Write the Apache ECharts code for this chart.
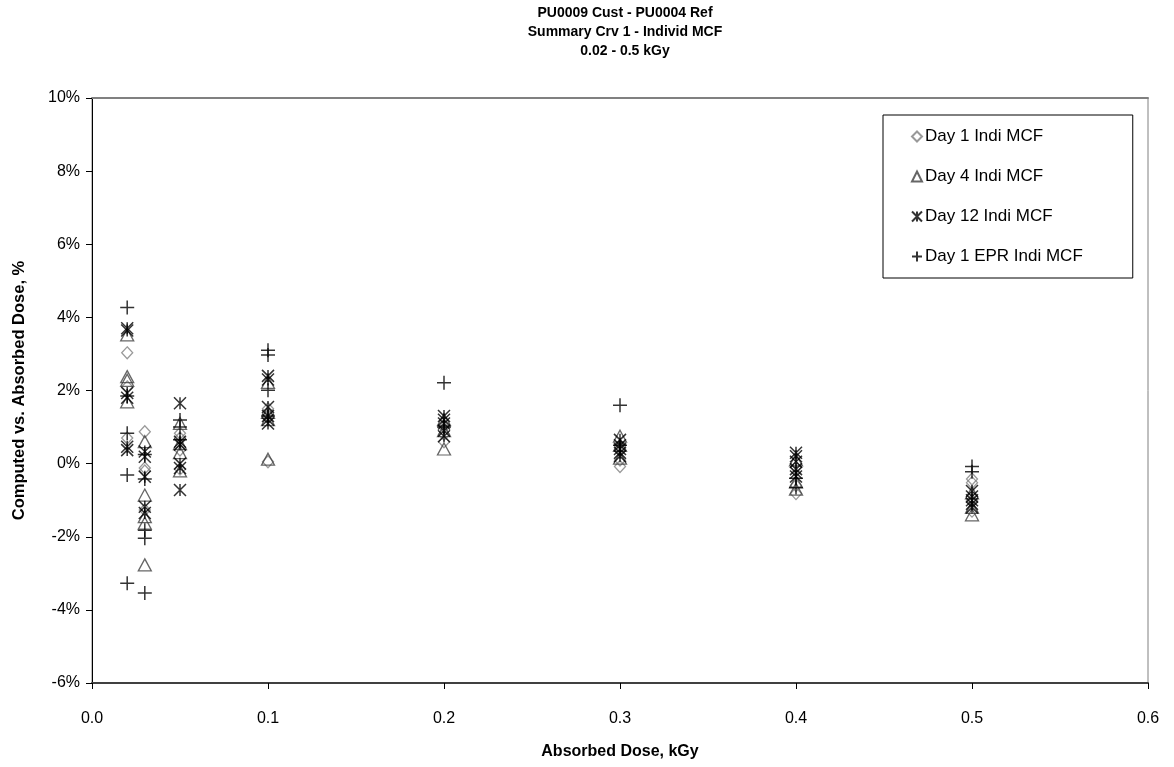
<!DOCTYPE html>
<html>
<head>
<meta charset="utf-8">
<script src="https://cdn.jsdelivr.net/npm/echarts@6/dist/echarts.min.js"></script>
<style>
html, body { margin: 0; padding: 0; background: #fff; }
#box { width: 1174px; height: 767px; }
</style>
</head>
<body>
<div id="box"></div>
<script>
// doses, kGy
var doses = [0.02, 0.03, 0.05, 0.1, 0.2, 0.3, 0.4, 0.5];

// computed vs absorbed, % (several replicates per dose)
var day1 = [
	[3.03, 2.1, 0.7],
	[0.87, -0.12, -0.2, -1.27],
	[0.83, 0.7, 0.37, -0.15],
	[1.5, 1.3, 0.05],
	[1.0, 0.8, 0.6],
	[0.4, 0.1, -0.08],
	[-0.1, -0.6, -0.82],
	[-0.42, -0.52, -1.0, -1.3]
];
var day4 = [
	[3.52, 2.38, 2.28, 1.69],
	[0.6, -0.86, -1.45, -1.63, -2.77],
	[1.1, 0.55, 0.3, -0.2],
	[2.22, 1.4, 1.2, 0.12],
	[1.2, 0.9, 0.4],
	[0.75, 0.5, 0.15],
	[0.1, -0.5, -0.7],
	[-0.8, -1.2, -1.4]
];
var day12 = [
	[3.70, 3.64, 1.93, 1.80, 0.46, 0.37],
	[0.33, 0.19, -0.36, -1.18, -1.35],
	[1.65, 0.6, 0.52, 0.0, -0.12, -0.72],
	[2.40, 2.30, 1.55, 1.3, 1.2, 1.1],
	[1.3, 1.2, 1.1, 0.9, 0.75],
	[0.65, 0.5, 0.4, 0.3, 0.2],
	[0.3, 0.2, 0.05, -0.15, -0.25, -0.35],
	[-0.75, -0.9, -1.0, -1.1, -1.2]
];
var day1epr = [
	[4.27, 1.85, 0.83, -0.31, -3.27],
	[0.25, -0.42, -1.82, -2.04, -3.54],
	[1.19, 1.0, 0.65],
	[3.10, 2.97, 2.01, 1.3],
	[2.21, 1.0],
	[1.60, 0.5],
	[-0.4, -0.65],
	[-0.08, -0.22]
];

var seriesNames = ['Day 1 Indi MCF', 'Day 4 Indi MCF', 'Day 12 Indi MCF', 'Day 1 EPR Indi MCF'];

var font = 'Liberation Sans, Arial, sans-serif';

function pairs(vals) {
	var out = [];
	for (var i = 0; i < doses.length; i++) {
		for (var j = 0; j < vals[i].length; j++) {
			out.push([doses[i], vals[i][j]]);
		}
	}
	return out;
}

function mkSeries(name, vals, symbol, size, color, bw) {
	return {
		name: name,
		type: 'scatter',
		data: pairs(vals),
		symbol: symbol,
		symbolSize: size,
		itemStyle: { color: 'rgba(0,0,0,0)', borderColor: color, borderWidth: bw },
		emphasis: { disabled: true }
	};
}

var myChart = echarts.init(document.getElementById('box'));

var option = {
	animation: false,
	title: {
		text: 'PU0009 Cust - PU0004 Ref\nSummary Crv 1 - Individ MCF\n0.02 - 0.5 kGy',
		left: 620,
		textAlign: 'center',
		top: -1,
		textStyle: { fontFamily: font, fontSize: 14, fontWeight: 'bold', color: '#000', lineHeight: 19 }
	},
	legend: {
		orient: 'vertical',
		left: 883,
		top: 115,
		data: seriesNames,
		itemWidth: 10,
		itemHeight: 10,
		itemGap: 23,
		padding: [13, 50, 13, 28],
		borderColor: '#000',
		borderWidth: 1,
		textStyle: { fontFamily: font, fontSize: 17, color: '#000', padding: [0, 0, 0, -2] }
	},
	grid: {
		left: 92, right: 26, top: 98, bottom: 84,
		show: true, borderColor: '#808080', borderWidth: 1
	},
	xAxis: [{
		type: 'value',
		min: 0, max: 0.6, interval: 0.1,
		name: 'Absorbed Dose, kGy',
		nameLocation: 'middle',
		nameGap: 61,
		nameTextStyle: { fontFamily: font, fontSize: 16, fontWeight: 'bold', color: '#000' },
		axisLine: { show: true, onZero: false, lineStyle: { color: '#404040', width: 2 } },
		axisTick: { show: true, length: 6, lineStyle: { color: '#000' } },
		axisLabel: {
			margin: 28, fontFamily: font, fontSize: 16, color: '#000',
			formatter: function (v) { return v.toFixed(1); }
		},
		splitLine: { show: false }
	}, {
		type: 'value', position: 'top',
		min: 0, max: 0.6,
		axisLine: { show: true, onZero: false, lineStyle: { color: '#808080', width: 2 } },
		axisTick: { show: false }, axisLabel: { show: false }, splitLine: { show: false }
	}],
	yAxis: {
		type: 'value',
		min: -6, max: 10, interval: 2,
		name: 'Computed vs. Absorbed Dose, %',
		nameLocation: 'middle',
		nameGap: 64,
		nameTextStyle: { fontFamily: font, fontSize: 16.5, fontWeight: 'bold', color: '#000' },
		axisLine: { show: true, onZero: false, lineStyle: { color: '#000', width: 1 } },
		axisTick: { show: true, length: 6, lineStyle: { color: '#000' } },
		axisLabel: {
			margin: 12, fontFamily: font, fontSize: 16, color: '#000',
			formatter: function (v) { return v + '%'; }
		},
		splitLine: { show: false }
	},
	series: [
		mkSeries(seriesNames[0], day1, 'diamond', [11, 12], '#808080', 1.3),
		mkSeries(seriesNames[1], day4, 'triangle', [13, 12], '#404040', 1.3),
		mkSeries(seriesNames[2], day12, 'path://M0,0L10,10M10,0L0,10M5,0L5,10', 12, '#000', 1.5),
		mkSeries(seriesNames[3], day1epr, 'path://M5,0L5,10M0,5L10,5', 14, '#000', 1.5)
	]
};

myChart.setOption(option);
</script>
</body>
</html>
